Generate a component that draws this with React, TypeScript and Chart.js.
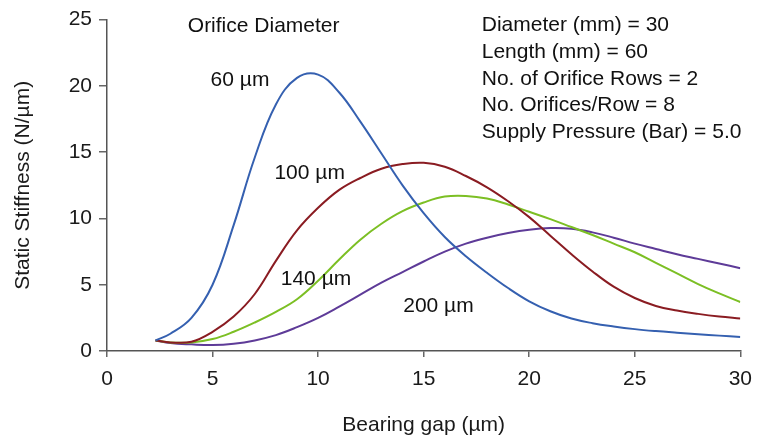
import React, { useEffect, useRef } from "react";
import { Chart, registerables } from "chart.js";

Chart.register(...registerables);

// Bearing gap (µm) sample positions
const gap = [2.3, 3, 4, 5, 6, 7, 8, 9, 10, 11, 12, 13, 14, 15, 16, 17, 18, 19, 20, 21, 22, 23, 24, 25, 26, 27, 28, 29, 30];

// Static stiffness (N/µm) per orifice diameter
const stiff60 = [0.8, 1.3, 2.5, 5.0, 9.5, 14.6, 18.6, 20.6, 20.85, 19.5, 17.3, 14.9, 12.5, 10.4, 8.6, 7.15, 5.9, 4.75, 3.75, 3.0, 2.45, 2.1, 1.85, 1.65, 1.5, 1.38, 1.27, 1.16, 1.05];
const stiff100 = [0.8, 0.65, 0.7, 1.45, 2.6, 4.3, 6.8, 9.1, 10.8, 12.15, 13.05, 13.75, 14.1, 14.2, 13.9, 13.2, 12.35, 11.3, 10.1, 8.7, 7.3, 6.0, 4.85, 4.0, 3.4, 3.05, 2.8, 2.6, 2.45];
const stiff140 = [0.8, 0.65, 0.65, 0.9, 1.45, 2.15, 2.95, 3.9, 5.3, 6.9, 8.4, 9.6, 10.55, 11.2, 11.65, 11.7, 11.5, 11.05, 10.5, 9.95, 9.35, 8.75, 8.1, 7.45, 6.65, 5.85, 5.05, 4.35, 3.7];
const stiff200 = [0.8, 0.6, 0.5, 0.45, 0.55, 0.8, 1.2, 1.8, 2.5, 3.35, 4.25, 5.15, 5.95, 6.75, 7.5, 8.1, 8.55, 8.9, 9.15, 9.27, 9.22, 8.95, 8.55, 8.1, 7.7, 7.3, 6.95, 6.6, 6.25];

const seriesNames = ["60 µm", "100 µm", "140 µm", "200 µm"];
const seriesColors = ["#3560b0", "#8a1c22", "#7cbf24", "#5e3b98"];

const xTicks = { min: 0, max: 30, step: 5 };
const yTicks = { min: 0, max: 25, step: 5 };

// curve labels: [text, x, y] in data coordinates (centre)
const curveLabels: [string, number, number][] = [
  ["Orifice Diameter", 7.42, 24.5],
  ["60 µm", 6.3, 20.4],
  ["100 µm", 9.6, 13.4],
  ["140 µm", 9.9, 5.4],
  ["200 µm", 15.7, 3.4],
];

const paramLines = [
  "Diameter (mm) = 30",
  "Length (mm) = 60",
  "No. of Orifice Rows = 2",
  "No. Orifices/Row = 8",
  "Supply Pressure (Bar) = 5.0",
];
const paramAnchor = { x: 17.75, yTop: 24.55, yBottom: 16.52 };

const FONT = "'Liberation Sans', Arial, Helvetica, sans-serif";

export default function App() {
  const ref = useRef<HTMLCanvasElement | null>(null);

  useEffect(() => {
    document.body.style.margin = "0";
    const canvas = ref.current;
    if (!canvas) return;

    const textPlugin = {
      id: "textPlugin",
      afterDatasetsDraw(chart: any) {
        const ctx = chart.ctx;
        const xs = chart.scales.x;
        const ys = chart.scales.y;
        ctx.save();
        ctx.fillStyle = "#111";
        ctx.font = `21px ${FONT}`;
        ctx.textBaseline = "middle";
        ctx.textAlign = "center";
        for (const [t, x, y] of curveLabels) {
          ctx.fillText(t, xs.getPixelForValue(x), ys.getPixelForValue(y));
        }
        ctx.textAlign = "left";
        const px = xs.getPixelForValue(paramAnchor.x);
        const top = ys.getPixelForValue(paramAnchor.yTop);
        const bot = ys.getPixelForValue(paramAnchor.yBottom);
        const step = (bot - top) / (paramLines.length - 1);
        paramLines.forEach((t, i) => ctx.fillText(t, px, top + i * step));
        ctx.restore();
      },
    };

    const chart = new Chart(canvas, {
      type: "line",
      data: {
        datasets: [stiff60, stiff100, stiff140, stiff200].map((s, k) => ({
          label: seriesNames[k],
          data: gap.map((x, i) => ({ x, y: s[i] })),
          borderColor: seriesColors[k],
          borderWidth: 2,
          pointRadius: 0,
          fill: false,
          tension: 0.4,
        })),
      },
      options: {
        responsive: false,
        animation: false,
        layout: { padding: { left: 0, right: 16, top: 19, bottom: 0 } },
        plugins: { legend: { display: false }, tooltip: { enabled: false } },
        scales: {
          x: {
            type: "linear",
            min: xTicks.min,
            max: xTicks.max,
            afterFit: (s: any) => {
              s.height = 90;
            },
            ticks: {
              stepSize: xTicks.step,
              color: "#1a1a1a",
              padding: 10,
              font: { family: FONT, size: 21 },
            },
            grid: { drawOnChartArea: false, drawTicks: true, tickLength: 6, color: "#666", lineWidth: 1.5 },
            border: { display: true, color: "#555", width: 1.5 },
            title: {
              display: true,
              text: "Bearing gap (µm)",
              color: "#1a1a1a",
              font: { family: FONT, size: 21 },
              padding: { top: 0, bottom: 3 },
            },
          },
          y: {
            type: "linear",
            min: yTicks.min,
            max: yTicks.max,
            afterFit: (s: any) => {
              s.width = 107;
            },
            ticks: {
              stepSize: yTicks.step,
              color: "#1a1a1a",
              padding: 7,
              font: { family: FONT, size: 21 },
            },
            grid: { drawOnChartArea: false, drawTicks: true, tickLength: 8, color: "#666", lineWidth: 1.5 },
            border: { display: true, color: "#555", width: 1.5 },
            title: {
              display: true,
              text: "Static Stiffness (N/µm)",
              color: "#1a1a1a",
              font: { family: FONT, size: 21 },
              padding: { top: 11, bottom: 0 },
            },
          },
        },
      },
      plugins: [textPlugin],
    });

    return () => chart.destroy();
  }, []);

  return (
    <div style={{ width: 762, height: 441, background: "#fff" }}>
      <canvas ref={ref} width={762} height={441} style={{ display: "block" }} />
    </div>
  );
}
